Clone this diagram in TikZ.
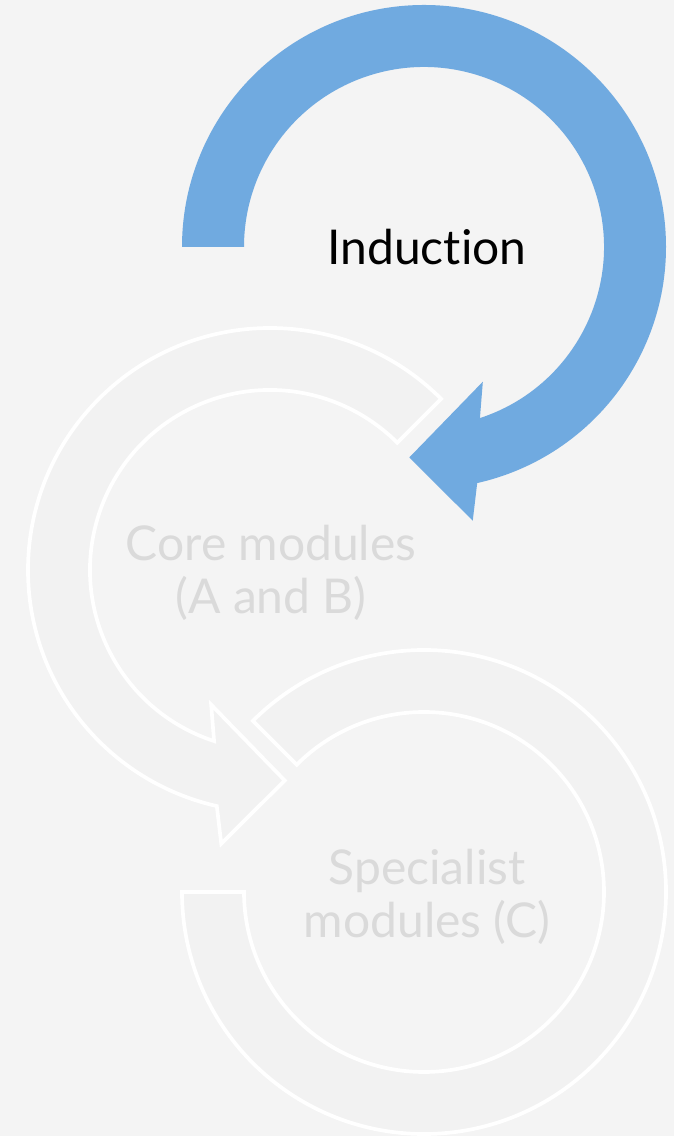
\documentclass[tikz,border=0pt]{standalone}
\usepackage{fontspec}
\setmainfont{Lato}[Ligatures=NoCommon]
\usepackage{tikz}
\usetikzlibrary{calc,positioning}
\usepackage{xcolor}
\definecolor{cyback}{RGB}{244,244,244}
\definecolor{cyblue}{RGB}{112,170,224}
\definecolor{cygray}{RGB}{242,242,242}
\definecolor{cytext}{RGB}{218,218,218}
\tikzstyle{activearrow} = [fill=cyblue, draw=none]
\tikzstyle{idlearrow} = [fill=cygray, draw=white, line width=2.1pt, line join=miter]

\begin{document}
\begin{tikzpicture}[x=0.02cm, y=0.02cm,
    stage/.style={align=center, font=\fontsize{27.3}{30}\selectfont, inner sep=0pt},
    idle/.style={stage, text=cytext}]

% Background
\fill[cyback] (0,0) rectangle (674,1136);
\useasboundingbox (0,0) rectangle (674,1136);

% Centres of the three rings
\coordinate (c1) at (424,889);
\coordinate (c2) at (270,566);
\coordinate (c3) at (424,244);

% Third ring (no arrowhead)
\draw[idlearrow] ($(c3)+(180:242)$) arc[start angle=180, end angle=495, radius=242]
    -- ($(c3)+(135:180)$) arc[start angle=495, end angle=180, radius=180] -- cycle;

% Second ring
\draw[idlearrow] ($(c2)+(45:242)$) arc[start angle=45, end angle=257.3, radius=242]
    -- ($(c2)+(259.9:278)$) -- ($(c2)+(274:211)$) -- ($(c2)+(246.4:147)$)
    -- ($(c2)+(251.9:180)$) arc[start angle=251.9, end angle=45, radius=180] -- cycle;

% First ring
\fill[activearrow] ($(c1)+(180:242)$) arc[start angle=180, end angle=-77.3, radius=242]
    -- ($(c1)+(-79.9:278)$) -- ($(c1)+(-94:211)$) -- ($(c1)+(-66.4:147)$)
    -- ($(c1)+(-71.9:180)$) arc[start angle=-71.9, end angle=180, radius=180] -- cycle;

% Labels
\node[stage] (induction) at (427,889) {Induction};
\node[idle] (core) at (271,563) {Core modules\\(A and B)};
\node[idle] (specialist) at (427,239) {Specialist\\modules (C)};
\end{tikzpicture}
\end{document}
